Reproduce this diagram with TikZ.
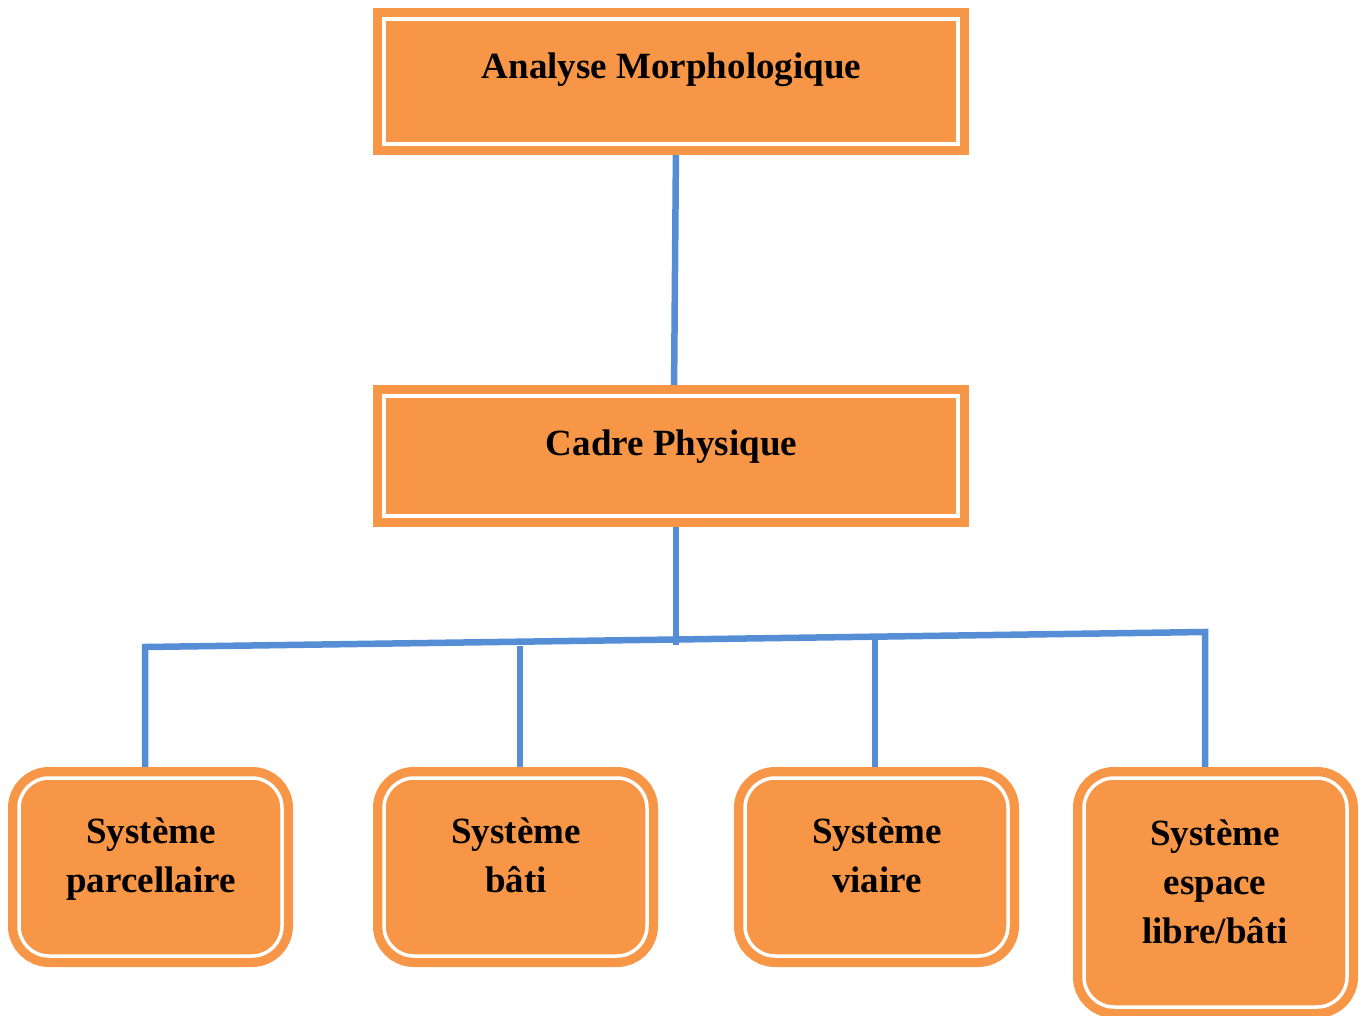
\documentclass[tikz,border=0pt]{standalone}
\usepackage{fontspec}
\setmainfont{Liberation Serif}
\usetikzlibrary{backgrounds}
\definecolor{boxorange}{HTML}{F79646}
\definecolor{linkblue}{HTML}{558ED5}
\tikzset{
  framebox/.style={rectangle, inner sep=0pt, fill=boxorange, draw=white, line width=3.5pt,
    preaction={draw=boxorange, line width=22pt}},
  roundbox/.style={framebox, rounded corners=30pt, minimum width=263pt},
  lbl/.style={anchor=base, inner sep=0pt, font=\bfseries\fontsize{37}{49}\selectfont},
  conn/.style={draw=linkblue, line width=6.5pt}
}
\newcommand{\twolines}[1]{\begin{tabular}[t]{@{}c@{}}#1\end{tabular}}
\begin{document}
\begin{tikzpicture}[x=1pt,y=-1pt]
\useasboundingbox (0,0) rectangle (1362,1016);
% boxes
\node[framebox, minimum width=574pt, minimum height=125pt] (top) at (671,81.5) {};
\node[framebox, minimum width=574pt, minimum height=120pt] (cadre) at (671,456) {};
\node[roundbox, minimum height=178pt] (s1) at (150.5,867) {};
\node[roundbox, minimum height=178pt] (s2) at (515.5,867) {};
\node[roundbox, minimum height=178pt] (s3) at (876.5,867) {};
\node[roundbox, minimum height=229pt] (s4) at (1215.5,892.5) {};
% texts
\node[lbl] (ttop) at (671.5,79) {Analyse Morphologique};
\node[lbl] (tcadre) at (671.5,455) {Cadre Physique};
\node[lbl] (t1) at (151,843) {\twolines{Système\\parcellaire}};
\node[lbl] (t2) at (516,843) {\twolines{Système\\bâti}};
\node[lbl] (t3) at (877,843) {\twolines{Système\\viaire}};
\node[lbl] (t4) at (1215,845) {\twolines{Système\\espace\\libre/bâti}};
% connectors
\coordinate (hub) at (676,645);
\coordinate (busL) at (145,647);
\coordinate (busR) at (1205,632);
\coordinate (d2) at (520,646);
\coordinate (d3) at (875,635);
\begin{scope}[on background layer]
\draw[conn] ([xshift=5pt]top.south) -- ([xshift=3pt]cadre.north);
\draw[conn] ([xshift=5pt]cadre.south) -- (hub);
\draw[conn] ([xshift=-5.5pt]s1.north) -- (busL) -- (busR) -- ([xshift=-10.5pt]s4.north);
\draw[conn] ([xshift=4.5pt]s2.north) -- (d2);
\draw[conn] ([xshift=-1.5pt]s3.north) -- (d3);
\end{scope}
\end{tikzpicture}
\end{document}
